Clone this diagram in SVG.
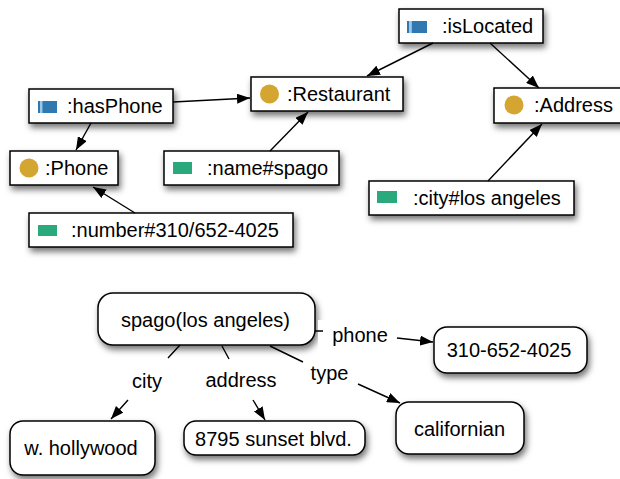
<svg xmlns="http://www.w3.org/2000/svg" width="620" height="479" viewBox="0 0 620 479">
<defs>
<filter id="sh" x="-20%" y="-30%" width="140%" height="180%">
<feDropShadow dx="2" dy="4" stdDeviation="3" flood-color="#000" flood-opacity="0.55"/>
</filter>
<marker id="ah" markerUnits="userSpaceOnUse" markerWidth="13" markerHeight="10" refX="13" refY="5" orient="auto">
<path d="M0,0 L13,5 L0,10 z" fill="#000"/>
</marker>
<linearGradient id="bl" x1="0" x2="1" y1="0" y2="0">
<stop offset="0" stop-color="#2f79b0"/>
<stop offset="0.1" stop-color="#2f79b0"/>
<stop offset="0.12" stop-color="#9cc8e6"/>
<stop offset="0.22" stop-color="#9cc8e6"/>
<stop offset="0.25" stop-color="#2f79b0"/>
<stop offset="1" stop-color="#2f79b0"/>
</linearGradient>
<style>
.box{fill:#fff;stroke:#000;stroke-width:1.5;filter:url(#sh)}
.t{font-family:"Liberation Sans",Arial,Helvetica,sans-serif;font-size:20px;fill:#000}
.m{text-anchor:middle}
.prop{fill:url(#bl)}
.cls{fill:#d4a530}
.dt{fill:#2aaa7c}
.ln{fill:none;stroke:#000;stroke-width:1.4}
.arr{marker-end:url(#ah)}
.lbg{fill:#fff}
</style>
</defs>
<rect width="620" height="479" fill="#fff"/>

<g id="isLocated">
<rect class="box" x="399" y="9" width="144" height="34"/>
<rect class="prop" x="407" y="21" width="20" height="12"/>
<text class="t" x="442" y="33">:isLocated</text>
</g>
<g id="Restaurant">
<rect class="box" x="251" y="77" width="152" height="34"/>
<circle class="cls" cx="269.5" cy="94" r="9.5"/>
<text class="t" x="287" y="101">:Restaurant</text>
</g>
<g id="Address">
<rect class="box" x="494" y="88" width="132" height="35"/>
<circle class="cls" cx="514" cy="105" r="9.5"/>
<text class="t" x="534" y="112">:Address</text>
</g>
<g id="hasPhone">
<rect class="box" x="29" y="89" width="144" height="34"/>
<rect class="prop" x="38" y="101" width="19" height="12"/>
<text class="t" x="67" y="113">:hasPhone</text>
</g>
<g id="Phone">
<rect class="box" x="10" y="151" width="108" height="34"/>
<circle class="cls" cx="29" cy="168" r="9.5"/>
<text class="t" x="45" y="175">:Phone</text>
</g>
<g id="nameSpago">
<rect class="box" x="164" y="151" width="175" height="34"/>
<rect class="dt" x="173" y="162" width="19" height="12"/>
<text class="t" x="207" y="175">:name#spago</text>
</g>
<g id="number">
<rect class="box" x="29" y="213" width="264" height="34"/>
<rect class="dt" x="38" y="225" width="19" height="11"/>
<text class="t" x="71" y="237">:number#310/652-4025</text>
</g>
<g id="cityLA">
<rect class="box" x="369" y="181" width="205" height="34"/>
<rect class="dt" x="377" y="191" width="20" height="12"/>
<text class="t" x="413" y="205">:city#los angeles</text>
</g>

<g id="spago">
<rect class="box" x="98" y="293" width="217" height="52" rx="15"/>
<text class="t m" x="205.5" y="327">spago(los angeles)</text>
</g>
<g id="hollywood">
<rect class="box" x="10" y="421" width="145" height="54" rx="13"/>
<text class="t m" x="81" y="455">w. hollywood</text>
</g>
<g id="sunset">
<rect class="box" x="184" y="421" width="181" height="34" rx="12"/>
<text class="t m" x="273.5" y="446">8795 sunset blvd.</text>
</g>
<g id="phoneNum">
<rect class="box" x="434" y="327" width="153" height="46" rx="13"/>
<text class="t m" x="509" y="357">310-652-4025</text>
</g>
<g id="californian">
<rect class="box" x="396" y="402" width="128" height="52" rx="13"/>
<text class="t m" x="459.5" y="436">californian</text>
</g>

<g id="connectors">
<path class="ln arr" d="M433,43 L367,76"/>
<path class="ln arr" d="M490,43 L539,88"/>
<path class="ln arr" d="M488,181 L542,124"/>
<path class="ln arr" d="M173,102 L250,98"/>
<path class="ln arr" d="M91,123 L76,150"/>
<path class="ln arr" d="M270,151 L308,112"/>
<path class="ln arr" d="M135,213 L93,187"/>

<rect class="lbg" x="123" y="359" width="52" height="40"/>
<rect class="lbg" x="195" y="359" width="90" height="40"/>
<rect class="lbg" x="303" y="362" width="55" height="28"/>
<rect class="lbg" x="318" y="320" width="79" height="32"/>

<path class="ln arr" d="M180,345 L168,358 M128,400 L111,419"/>
<text class="t m" x="147" y="388">city</text>
<path class="ln arr" d="M222,346 L229,359 M253,400 L265,420"/>
<text class="t m" x="241" y="387">address</text>
<path class="ln arr" d="M270,346 L303,362 M358,384 L400,403"/>
<text class="t m" x="329.5" y="380">type</text>
<path class="ln arr" d="M315,331 L323,331 M397,338 L433,342"/>
<text class="t m" x="360" y="342">phone</text>
</g>
</svg>
